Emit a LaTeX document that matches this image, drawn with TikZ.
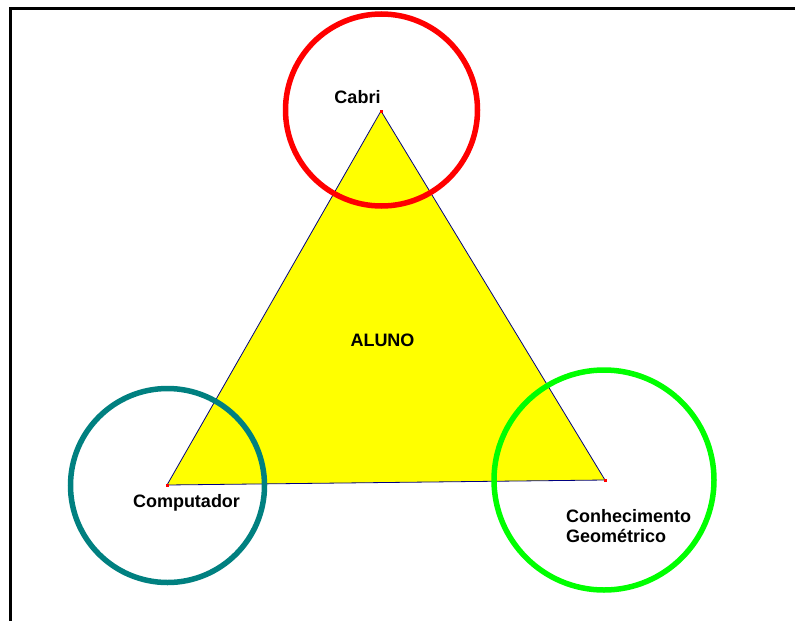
\documentclass[tikz,border=0pt]{standalone}
\usepackage{fontspec}
\setmainfont{Liberation Sans}
\definecolor{tealc}{RGB}{0,128,128}
\definecolor{limec}{RGB}{0,255,0}
\definecolor{navyc}{RGB}{0,0,128}
\definecolor{yel}{RGB}{255,255,0}
\begin{document}
\begin{tikzpicture}[x=1pt,y=-1pt,
  ring/.style={line width=5.5pt},
  lbl/.style={font=\bfseries\fontsize{18}{20}\selectfont, inner sep=0pt, anchor=base},
  vdot/.style={fill=red, inner sep=0pt, minimum size=3pt, shape=rectangle}]
\useasboundingbox (0,0) rectangle (795,621);
\fill[white] (0,0) rectangle (795,621);
% frame
\draw[line width=3pt] (10,621) -- (10,8) -- (795,8);
% vertices
\coordinate (top) at (381,111);
\coordinate (left) at (167,485);
\coordinate (right) at (605,480);
% triangle
\filldraw[fill=yel, draw=navyc, line width=0.8pt] (top) -- (left) -- (right) -- cycle;
\node[vdot] (vt) at (top) {};
\node[vdot] (vl) at (left) {};
\node[vdot] (vr) at (right) {};
% circles
\draw[ring, red] (381.5,110) circle (96);
\draw[ring, tealc] (167.5,485.5) circle (97);
\draw[ring, limec] (604,480) circle (110);
% labels
\node[lbl] (cabri) at (357.5,103) {Cabri};
\node[lbl] (aluno) at (382.5,346) {ALUNO};
\node[lbl] (comp) at (186.5,507) {Computador};
\node[lbl, anchor=base west] (conh) at (566,522) {Conhecimento};
\node[lbl, anchor=base west] (geom) at (566,542) {Geométrico};
\end{tikzpicture}
\end{document}
